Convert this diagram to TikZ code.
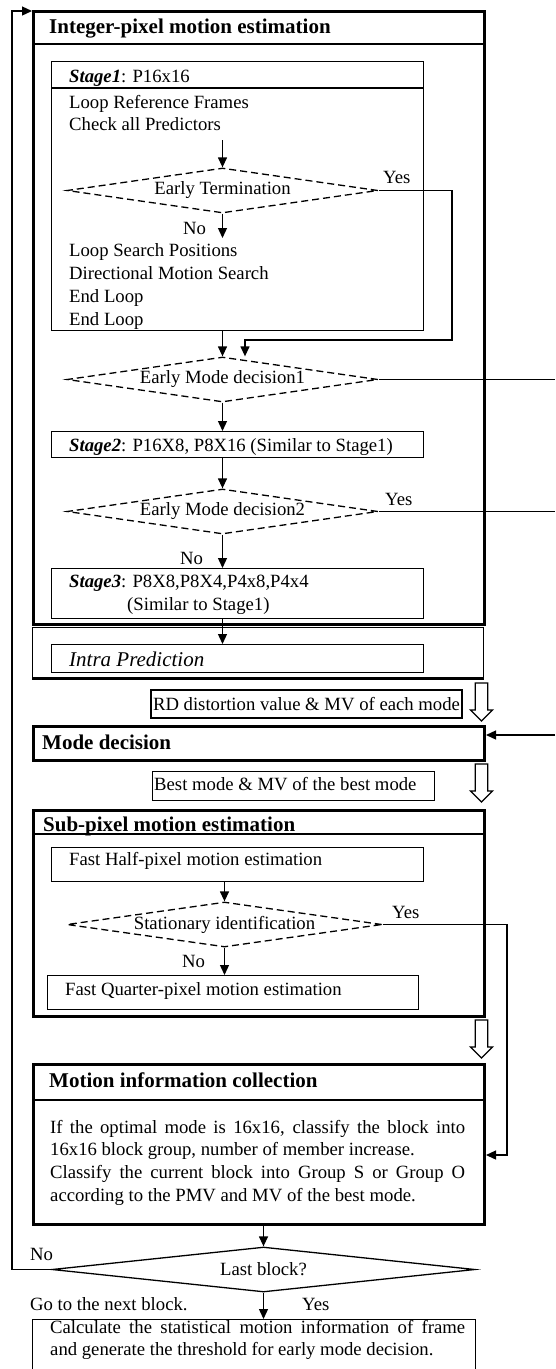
\documentclass[tikz,border=0pt]{standalone}
\usepackage{fontspec}
\setmainfont{Liberation Serif}
\usetikzlibrary{shapes.geometric,arrows.meta,calc}

\begin{document}
\begin{tikzpicture}[x=1pt,y=-1pt,
  font=\fontsize{18.7}{22.8}\selectfont,
  txt/.style={inner sep=0pt, anchor=base west},
  ttl/.style={txt, font=\fontsize{21}{25}\selectfont\bfseries},
  frame/.style={draw, line width=1.4pt, inner sep=0pt, anchor=north west},
  heavy/.style={frame, line width=3pt},
  sep/.style={line width=1.3pt},
  dia/.style={diamond, draw, line width=1.3pt, dash pattern=on 7pt off 4pt,
    inner sep=0pt, aspect=7, minimum height=45pt},
  conn/.style={line width=1.3pt},
  arr/.style={conn, -{Triangle[length=10pt,width=9pt]}},
  hollow/.style={draw, line width=1.3pt, fill=white, line join=miter},
]
\useasboundingbox (0,0) rectangle (555,1369);
\coordinate (edge) at (555,0);

% ---------- Integer-pixel motion estimation ----------
\node[heavy, minimum width=451pt, minimum height=613pt] (intbox) at (32,10) {};
\draw[sep] ([yshift=-34pt]intbox.north west) -- ([yshift=-34pt]intbox.north east);
\node[ttl] (inttitle) at (49,33) {Integer-pixel motion estimation};

% Stage 1
\node[frame, minimum width=372pt, minimum height=269pt] (s1) at (51,61) {};
\draw[sep] ([yshift=-27pt]s1.north west) -- ([yshift=-27pt]s1.north east);
\node[txt] (s1head) at (69,82) {\textbf{\textit{Stage1}}: P16x16};
\node[txt] (s1a) at (69,108) {Loop Reference Frames};
\node[txt] (s1b) at (69,130) {Check all Predictors};
\coordinate (s1out) at (222.5,140);
\node[dia, minimum width=311pt] (et) at (222.5,190.5) {Early Termination};
\draw[arr] (s1out) -- (et.north);
\node[txt] (etyes) at (383,183) {Yes};
\node[txt] (etno) at (183,234) {No};
\coordinate (etnoend) at (222.5,238);
\draw[arr] (et.south) -- (etnoend);
\node[txt] (s1c) at (69,256) {Loop Search Positions};
\node[txt] (s1d) at (69,279) {Directional Motion Search};
\node[txt] (s1e) at (69,302) {End Loop};
\node[txt] (s1f) at (69,325) {End Loop};

% Early mode decision 1
\node[dia, minimum width=311pt] (emd1) at (222.5,379.5) {Early Mode decision1};
\draw[arr] (emd1.north |- s1.south) -- (emd1.north);
\coordinate (etturn) at (452,340);
\coordinate (etjoin) at (245,340);
\draw[arr] (et.east) -| (etturn) -- (etjoin) -- (etjoin |- emd1.north);
\draw[conn] (emd1.east) -- (emd1.east -| edge);

% Stage 2
\node[frame, minimum width=372pt, minimum height=26pt] (s2) at (51,431) {};
\node[txt] (s2t) at (69,451) {\textbf{\textit{Stage2}}: P16X8, P8X16 (Similar to Stage1)};
\draw[arr] (emd1.south) -- (emd1.south |- s2.north);

% Early mode decision 2
\node[dia, minimum width=311pt] (emd2) at (222.5,511.5) {Early Mode decision2};
\draw[arr] (emd2.north |- s2.south) -- (emd2.north);
\node[txt] (emd2yes) at (385,505) {Yes};
\draw[conn] (emd2.east) -- (emd2.east -| edge);
\node[txt] (emd2no) at (180,564) {No};

% Stage 3
\node[frame, minimum width=372pt, minimum height=50pt] (s3) at (51,568) {};
\node[txt] (s3a) at (69,587) {\textbf{\textit{Stage3}}: P8X8,P8X4,P4x8,P4x4};
\node[txt] (s3b) at (127,610) {(Similar to Stage1)};
\draw[arr] (emd2.south) -- (emd2.south |- s3.north);

% ---------- Intra prediction ----------
\node[frame, minimum width=451pt, minimum height=50pt] (intraout) at (32,627) {};
\draw[line width=3pt] (intraout.south west) -- (intraout.south east);
\node[frame, minimum width=372pt, minimum height=28pt] (intra) at (51,644) {};
\node[txt, font=\fontsize{21}{25}\selectfont\itshape] (intrat) at (69,666) {Intra Prediction};
\draw[arr] (emd2.south |- s3.south) -- (emd2.south |- intra.north);

% RD values
\node[draw, line width=1.3pt, inner xsep=2pt, inner ysep=0pt, minimum height=28pt] (rd) at (306.5,704)
  {RD distortion value \& MV of each mode};
\coordinate (h1) at (481.5,683);
\draw[hollow] (h1) ++(-6.3,0) -- ++(0,27) -- ++(-4.7,0) -- ++(11,11) -- ++(11,-11) -- ++(-4.7,0) -- ++(0,-27) -- cycle;

% ---------- Mode decision ----------
\node[heavy, minimum width=451pt, minimum height=34pt] (md) at (32,725) {};
\node[ttl] (mdt) at (42,749) {Mode decision};
\coordinate (rt3) at (555,735);
\draw[arr] (rt3) -- (rt3 -| md.east);

% Best mode
\node[frame, minimum width=282pt, minimum height=29pt] (best) at (152,771) {};
\node[txt] (bestt) at (154,790) {Best mode \& MV of the best mode};
\coordinate (h2) at (481.5,764);
\draw[hollow] (h2) ++(-6.3,0) -- ++(0,27) -- ++(-4.7,0) -- ++(11,11) -- ++(11,-11) -- ++(-4.7,0) -- ++(0,-27) -- cycle;

% ---------- Sub-pixel motion estimation ----------
\node[heavy, minimum width=451pt, minimum height=206pt] (sub) at (32,809) {};
\draw[sep] ([yshift=-25pt]sub.north west) -- ([yshift=-25pt]sub.north east);
\node[ttl] (subt) at (43,831) {Sub-pixel motion estimation};
\node[frame, minimum width=372pt, minimum height=34pt] (half) at (51,847) {};
\node[txt] (halft) at (69,865) {Fast Half-pixel motion estimation};
\node[dia, minimum width=315pt] (stat) at (224.5,924.5) {Stationary identification};
\draw[arr] (stat.north |- half.south) -- (stat.north);
\node[txt] (statyes) at (392,918) {Yes};
\node[txt] (statno) at (182,967) {No};
\node[frame, minimum width=371pt, minimum height=34pt] (quarter) at (47,975) {};
\node[txt] (quartert) at (65,995) {Fast Quarter-pixel motion estimation};
\draw[arr] (stat.south) -- (stat.south |- quarter.north);
\coordinate (h3) at (481.5,1020);
\draw[hollow] (h3) ++(-6.3,0) -- ++(0,27) -- ++(-4.7,0) -- ++(11,11) -- ++(11,-11) -- ++(-4.7,0) -- ++(0,-27) -- cycle;

% ---------- Motion information collection ----------
\node[heavy, minimum width=451pt, minimum height=160pt] (mi) at (32,1063) {};
\draw[sep] ([yshift=-37pt]mi.north west) -- ([yshift=-37pt]mi.north east);
\node[ttl] (mit) at (49,1087) {Motion information collection};
\node[txt, text width=415pt, align=justify] (mibody) at (50,1133)
  {If the optimal mode is 16x16, classify the block into\linebreak
   16x16 block group, number of member increase.\\
   Classify the current block into Group S or Group O\linebreak
   according to the PMV and MV of the best mode.};
\coordinate (statturn) at (507,1155);
\draw[arr] (stat.east) -| (statturn) -- (statturn -| mi.east);

% ---------- Last block? ----------
\node[diamond, draw, line width=1.3pt, inner sep=0pt, aspect=9,
      minimum width=423pt, minimum height=45pt] (last) at (263.5,1269.5) {Last block?};
\draw[arr] (last.north |- mi.south) -- (last.north);
\node[txt] (lastno) at (30,1260) {No};
\coordinate (loopx) at (12,11);
\draw[arr] (last.west) -| (loopx) -- (loopx -| intbox.west);
\node[txt] (lastyes) at (302,1310) {Yes};
\node[txt] (nextblk) at (30,1310) {Go to the next block.};

% Frame statistics
\node[frame, minimum width=443pt, minimum height=51pt] (fin) at (32,1319) {};
\draw[arr] (last.south) -- (last.south |- fin.north);
\node[txt, text width=415pt, align=justify] (fint) at (50,1333)
  {Calculate the statistical motion information of frame\linebreak
   and generate the threshold for early mode decision.};
\end{tikzpicture}
\end{document}
